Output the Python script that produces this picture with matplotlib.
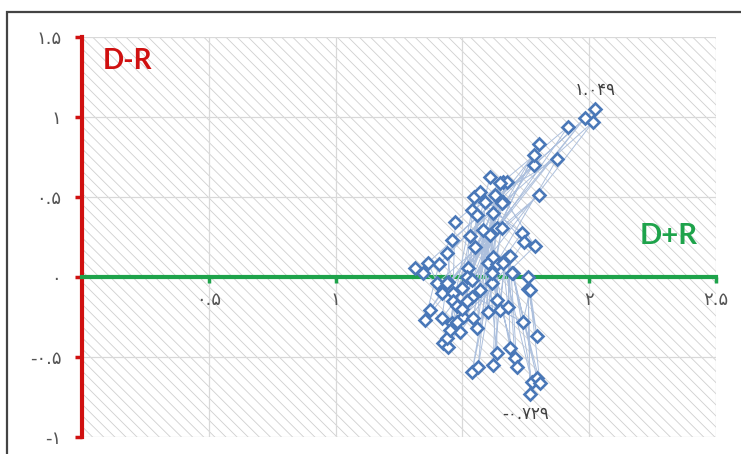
import matplotlib
matplotlib.use("Agg")
import matplotlib.pyplot as plt
from matplotlib.patches import Rectangle

# نقاط (D+R , D-R) به ترتیب زمانی
x_vals = [1.313, 1.345, 1.400, 1.802, 1.443, 1.372, 1.782, 1.408, 1.353, 1.983,
          1.420, 1.364, 2.023, 1.459, 1.420, 2.015, 1.439, 1.463, 1.916, 1.471,
          1.459, 1.802, 1.522, 1.423, 1.782, 1.530, 1.443, 1.873, 1.538, 1.439,
          1.735, 1.546, 1.491, 1.743, 1.569, 1.502, 1.786, 1.609, 1.498, 1.660,
          1.538, 1.676, 1.530, 1.648, 1.542, 1.629, 1.558, 1.589, 1.569, 1.660,
          1.518, 1.656, 1.538, 1.558, 1.550, 1.621, 1.617, 1.581, 1.601, 1.636,
          1.538, 1.656, 1.562, 1.609, 1.636, 1.601, 1.636, 1.636, 1.621, 1.668,
          1.648, 1.621, 1.688, 1.680, 1.707, 1.617, 1.715, 1.688, 1.680, 1.660,
          1.774, 1.700, 1.794, 1.696, 1.806, 1.759, 1.767, 1.759, 1.794, 1.767,
          1.739, 1.439, 1.463, 1.480, 1.500, 1.520, 1.480, 1.450]
y_vals = [0.056, 0.025, -0.038, 0.513, -0.031, -0.206, 0.700, 0.081, -0.269, 0.994,
          -0.100, 0.088, 1.049, 0.231, -0.256, 0.969, 0.150, -0.100, 0.938, 0.344,
          -0.288, 0.831, 0.056, -0.413, 0.763, 0.256, -0.438, 0.738, 0.419, -0.381,
          0.275, 0.500, -0.344, 0.219, 0.531, -0.250, 0.194, 0.625, -0.069, 0.594,
          -0.125, 0.594, -0.006, 0.588, -0.256, 0.513, -0.319, 0.469, -0.081, 0.469,
          0.000, 0.463, -0.019, 0.388, 0.188, 0.400, -0.038, 0.294, -0.219, 0.306,
          -0.594, 0.306, -0.563, 0.263, -0.144, 0.088, -0.475, 0.081, -0.550, 0.106,
          -0.206, 0.125, -0.444, 0.125, -0.506, 0.025, -0.563, 0.131, -0.188, 0.088,
          -0.656, 0.025, -0.631, 0.025, -0.663, 0.000, -0.729, -0.075, -0.369, -0.081,
          -0.281, -0.038, -0.150, -0.180, -0.200, -0.150, -0.280, -0.330]

x_ticks = [0.5, 1, 1.5, 2, 2.5]
x_labels = ["۰.۵", "۱", "۱.۵", "۲", "۲.۵"]
y_ticks = [-1, -0.5, 0, 0.5, 1, 1.5]
y_labels = ["-۱", "-۰.۵", "۰", "۰.۵", "۱", "۱.۵"]

max_label = "۱.۰۴۹"
min_label = "-۰.۷۲۹"

blue = "#4a78b8"
red = "#d01010"
green = "#1ea34b"

plt.rcParams['hatch.linewidth'] = 0.6
fig = plt.figure(figsize=(7.41, 4.54), dpi=100)
ax = fig.add_axes([82/741, 17/454, 634/741, 400/454])

# قاب دور تصویر
fig.patches.append(Rectangle((7/741, -0.1), 1.2, (454-12)/454 + 0.1, transform=fig.transFigure,
                             fill=False, edgecolor="#444444", lw=1.6))

# پس زمینه هاشور خورده
ax.add_patch(Rectangle((0, 0), 1, 1, transform=ax.transAxes, facecolor="white",
                       edgecolor="#cfcfcf", hatch="\\\\\\", lw=0, zorder=0))

ax.set_xlim(0, 2.5)
ax.set_ylim(-1, 1.5)
ax.set_xticks(x_ticks)
ax.set_xticklabels(x_labels)
ax.set_yticks(y_ticks)
ax.set_yticklabels(y_labels)
ax.grid(True, color="#d9d9d9", lw=0.9, zorder=1)
ax.set_axisbelow(True)

for s in ["top", "right"]:
    ax.spines[s].set_visible(False)
ax.spines["left"].set_color(red)
ax.spines["left"].set_linewidth(3)
ax.spines["bottom"].set_position(("data", 0))
ax.spines["bottom"].set_color(green)
ax.spines["bottom"].set_linewidth(3)

ax.tick_params(axis="y", colors=red, direction="out", length=5, width=2.5,
               labelcolor="#555555", labelsize=13, pad=10)
ax.tick_params(axis="x", colors=green, direction="out", length=4, width=2.5,
               labelcolor="#555555", labelsize=13, pad=6)

ax.plot(x_vals, y_vals, "-", color="#adc0dd", lw=0.7, marker="D", ms=6.5,
        mfc="white", mec=blue, mew=1.9, zorder=3, clip_on=False)

i_max = y_vals.index(max(y_vals))
i_min = y_vals.index(min(y_vals))
ax.annotate(max_label, (x_vals[i_max], y_vals[i_max]), xytext=(0, 7),
            textcoords="offset points", ha="center", va="bottom",
            fontsize=12, color="#404040")
ax.annotate(min_label, (x_vals[i_min], y_vals[i_min]), xytext=(-3, -8),
            textcoords="offset points", ha="center", va="top",
            fontsize=12, color="#404040")

ax.text(0.08, 1.35, "D-R", color=red, fontsize=20, fontweight="bold",
        family="Lato", va="center", ha="left")
ax.text(2.315, 0.256, "D+R", color=green, fontsize=21, fontweight="bold",
        family="Lato", va="center", ha="center")

fig.savefig("out.png", dpi=100)
